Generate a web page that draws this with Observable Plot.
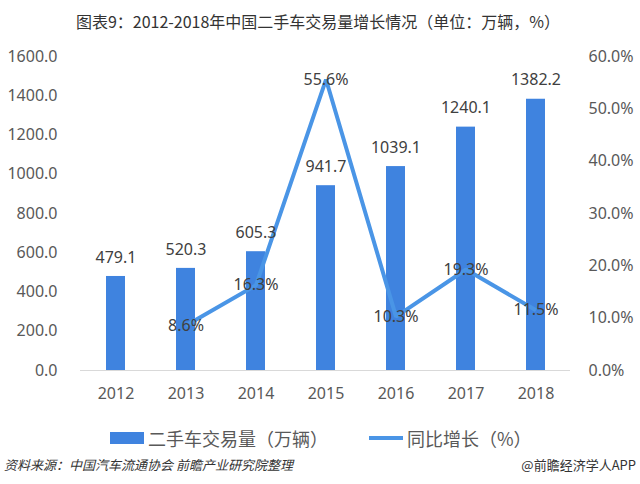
<!DOCTYPE html>
<html>
<head>
<meta charset="utf-8">
<script src="https://cdn.jsdelivr.net/npm/d3@7"></script>
<script src="https://cdn.jsdelivr.net/npm/@observablehq/plot@0.6"></script>
<style>
  html, body { margin: 0; padding: 0; background: #fff; }
  #wrap { position: relative; width: 640px; height: 484px; overflow: hidden; font-family: "Noto Sans", "Noto Sans CJK SC", sans-serif; }
  #chart { position: absolute; left: 0; top: 0; }
  .abs { position: absolute; white-space: nowrap; }
  #title { left: 0; width: 636px; top: 9px; text-align: center; font-size: 16px; color: #333; font-family: "Noto Sans CJK SC", sans-serif; }
  .legtext { font-size: 18px; color: #595959; font-family: "Noto Sans CJK SC", sans-serif; line-height: 24px; }
  #src { left: 4px; top: 456px; font-size: 13px; font-style: italic; color: #333; font-family: "Noto Sans CJK SC", sans-serif; line-height: 18px; }
  #brand { right: 4px; top: 456px; font-size: 13px; color: #333; font-family: "Noto Sans CJK SC", sans-serif; line-height: 18px; }
</style>
</head>
<body>
<div id="wrap">
  <div id="chart"></div>
  <div id="title" class="abs">图表9：2012-2018年中国二手车交易量增长情况（单位：万辆，%）</div>
  <div class="abs" style="left:110px; top:432px; width:34px; height:12px; background:#3F83DF;"></div>
  <div class="abs legtext" style="left:148px; top:426px;">二手车交易量（万辆）</div>
  <div class="abs" style="left:369px; top:436px; width:34px; height:4px; background:#4A95E6;"></div>
  <div class="abs legtext" style="left:407px; top:426px;">同比增长（%）</div>
  <div id="src" class="abs">资料来源：中国汽车流通协会 前瞻产业研究院整理</div>
  <div id="brand" class="abs">@前瞻经济学人APP</div>
</div>
<script>
const years = ["2012", "2013", "2014", "2015", "2016", "2017", "2018"];
const volume = [479.1, 520.3, 605.3, 941.7, 1039.1, 1240.1, 1382.2];
const growthYears = ["2013", "2014", "2015", "2016", "2017", "2018"];
const growth = [8.6, 16.3, 55.6, 10.3, 19.3, 11.5];
const leftTicks = [0, 200, 400, 600, 800, 1000, 1200, 1400, 1600];
const rightTicks = [0, 10, 20, 30, 40, 50, 60];

const LEFT_MAX = 1600, RIGHT_MAX = 60;
const toLeft = p => p * LEFT_MAX / RIGHT_MAX;

const volData = years.map((y, i) => ({year: y, volume: volume[i]}));
const growthData = growthYears.map((y, i) => ({year: y, pct: growth[i], v: toLeft(growth[i])}));

const chart = Plot.plot({
  width: 640,
  height: 484,
  marginLeft: 80,
  marginRight: 70,
  marginTop: 56,
  marginBottom: 114,
  style: {fontFamily: "'Noto Sans', 'Noto Sans CJK SC', sans-serif", fontSize: "16px", background: "transparent", overflow: "visible"},
  x: {domain: years, paddingInner: 0.73, paddingOuter: 0.365, label: null},
  y: {domain: [0, LEFT_MAX], label: null},
  marks: [
    Plot.barY(volData, {x: "year", y: "volume", fill: "#3F83DF"}),
    Plot.ruleY([0], {stroke: "#d9d9d9", strokeWidth: 1}),
    Plot.line(growthData, {x: "year", y: "v", stroke: "#4A95E6", strokeWidth: 4, strokeLinejoin: "miter", strokeLinecap: "butt"}),
    Plot.text(volData, {x: "year", y: "volume", text: d => d.volume.toFixed(1), dy: -19, fontSize: 16, fill: "#404040"}),
    Plot.text(growthData, {x: "year", y: "v", text: d => d.pct.toFixed(1) + "%", fontSize: 16, fill: "#404040"}),
    Plot.axisY(leftTicks, {anchor: "left", tickSize: 0, tickPadding: 23, tickFormat: d => d.toFixed(1), fill: "#595959", fontSize: 16, label: null}),
    Plot.axisY(rightTicks.map(toLeft), {anchor: "right", tickSize: 0, tickPadding: 18, tickFormat: d => (d * RIGHT_MAX / LEFT_MAX).toFixed(1) + "%", fill: "#595959", fontSize: 16, label: null}),
    Plot.axisX({anchor: "bottom", tickSize: 0, tickPadding: 17, fill: "#595959", fontSize: 16, label: null})
  ]
});
document.getElementById("chart").appendChild(chart);
</script>
</body>
</html>
